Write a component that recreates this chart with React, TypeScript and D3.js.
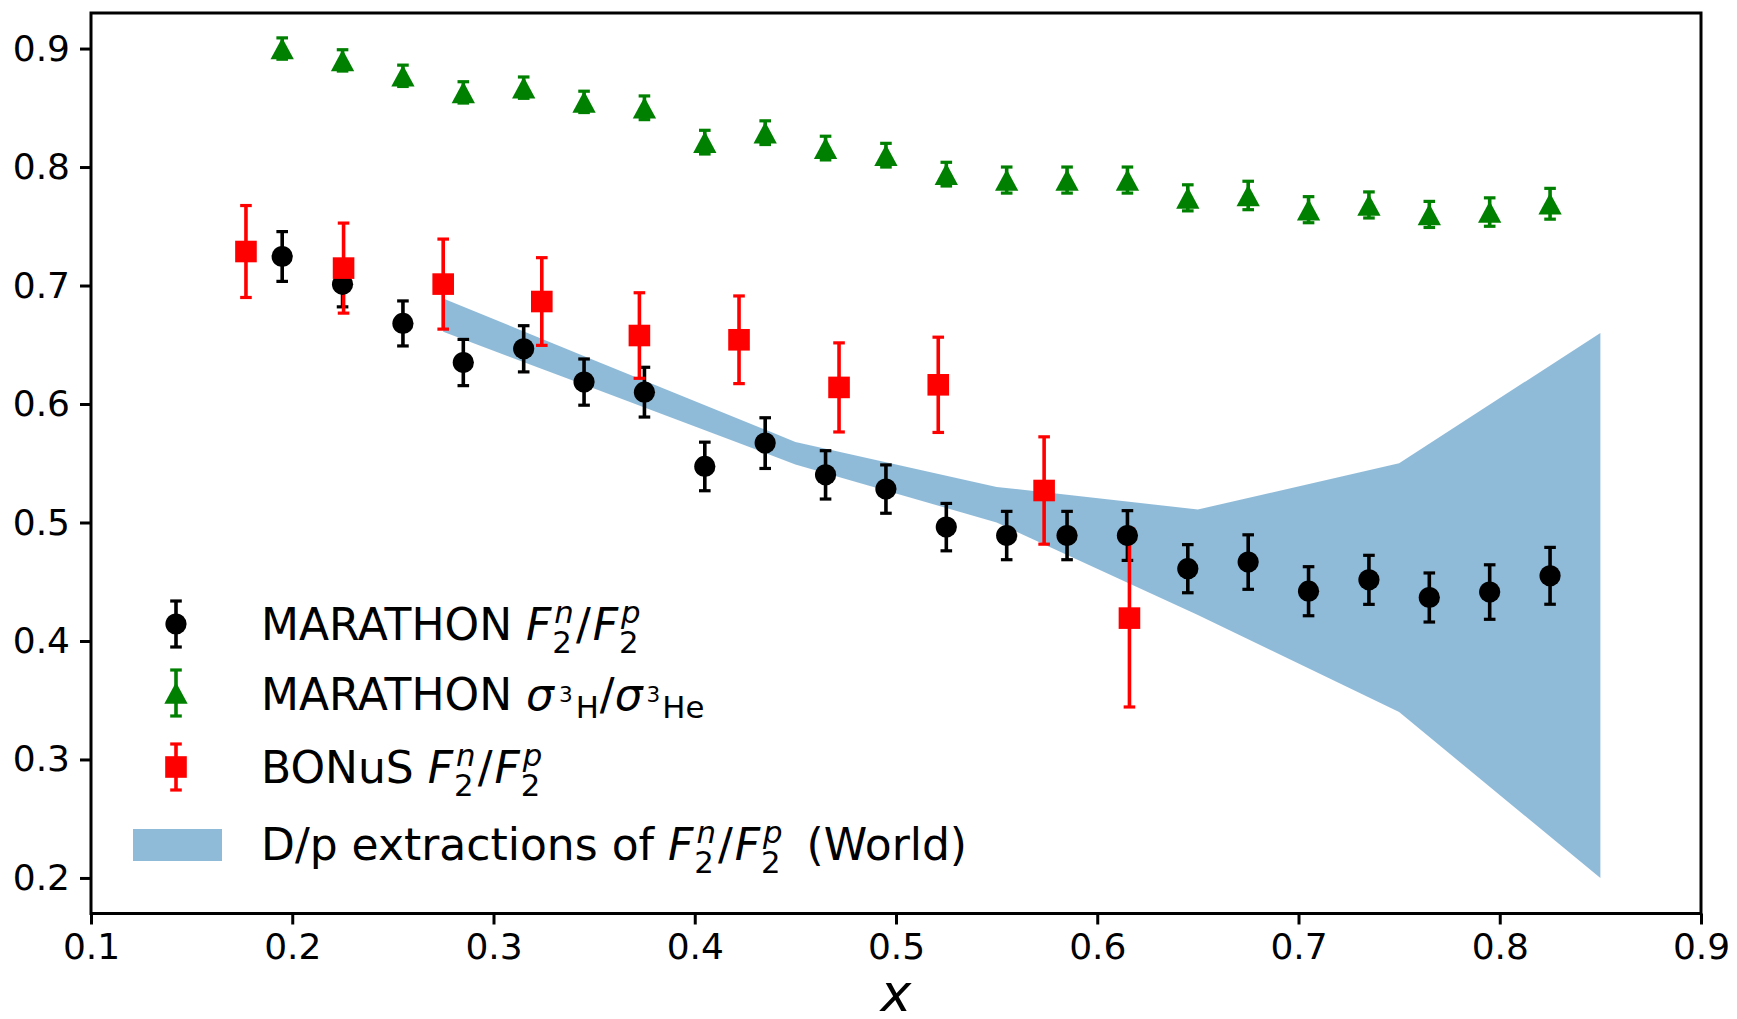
import React, { useEffect, useRef } from "react";
import * as d3 from "d3";

// MARATHON F2n/F2p (black circles)
const marathonX = [0.195, 0.225, 0.255, 0.285, 0.315, 0.345, 0.375, 0.405, 0.435, 0.465, 0.495,
  0.525, 0.555, 0.585, 0.615, 0.645, 0.675, 0.705, 0.735, 0.765, 0.795, 0.825];
const marathonRatio = [0.7245, 0.701, 0.668, 0.635, 0.6466, 0.6185, 0.61, 0.5473, 0.567, 0.5402, 0.5282,
  0.4961, 0.489, 0.489, 0.489, 0.461, 0.4666, 0.442, 0.4516, 0.4367, 0.4413, 0.455];
const marathonRatioErr = [0.021, 0.019, 0.019, 0.0195, 0.0195, 0.0195, 0.021, 0.0205, 0.0214, 0.0204, 0.0204,
  0.02, 0.0204, 0.0204, 0.021, 0.0203, 0.023, 0.0207, 0.0207, 0.0207, 0.023, 0.024];

// MARATHON sigma(3H)/sigma(3He) (green triangles)
const xsecRatio = [0.9, 0.89, 0.877, 0.863, 0.867, 0.855, 0.85, 0.821, 0.829, 0.816, 0.81,
  0.794, 0.789, 0.789, 0.789, 0.774, 0.776, 0.764, 0.768, 0.76, 0.762, 0.769];
const xsecRatioErr = [0.009, 0.009, 0.009, 0.009, 0.009, 0.009, 0.01, 0.01, 0.01, 0.01, 0.01,
  0.01, 0.011, 0.011, 0.011, 0.011, 0.012, 0.011, 0.011, 0.011, 0.012, 0.013];

// BONuS F2n/F2p (red squares)
const bonusX = [0.177, 0.2255, 0.275, 0.324, 0.3725, 0.422, 0.4717, 0.521, 0.5736, 0.616];
const bonusRatio = [0.7287, 0.7147, 0.7012, 0.6865, 0.6578, 0.6542, 0.614, 0.6162, 0.527, 0.4193];
const bonusErr = [0.0388, 0.038, 0.038, 0.037, 0.0361, 0.037, 0.0376, 0.0402, 0.0453, 0.075];

// D/p world band
const bandX = [0.275, 0.35, 0.45, 0.55, 0.65, 0.75, 0.85];
const bandUpper = [0.689, 0.637, 0.568, 0.53, 0.511, 0.55, 0.66];
const bandLower = [0.661, 0.613, 0.549, 0.5, 0.422, 0.34, 0.2];

const xTicks = [0.1, 0.2, 0.3, 0.4, 0.5, 0.6, 0.7, 0.8, 0.9];
const yTicks = [0.2, 0.3, 0.4, 0.5, 0.6, 0.7, 0.8, 0.9];

const W = 1737;
const H = 1019;
const FONT = "DejaVu Sans, Verdana, sans-serif";

type Seg = { t: string; it?: boolean; size?: number; shift?: number; dx?: number };

// F_2^n / F_2^p in mathtext style
const f2ratio = (fs: number): Seg[] => {
  const s = fs * 0.7;
  const w = s * 0.636;
  return [
    { t: "F", it: true },
    { t: "2", size: s, shift: 13, dx: 1 },
    { t: "n", it: true, size: s, shift: -17, dx: -w + 2 },
    { t: "/", dx: 2 },
    { t: "F", it: true, dx: 2 },
    { t: "2", size: s, shift: 13, dx: 1 },
    { t: "p", it: true, size: s, shift: -17, dx: -w + 2 },
  ];
};

const App = () => {
  const svgRef = useRef<SVGSVGElement>(null);

  useEffect(() => {
    const svg = d3.select(svgRef.current);
    svg.selectAll("*").remove();

    const left = 91, right = 1701, top = 13, bottom = 913.5;

    const x = d3.scaleLinear().domain([0.1, 0.9]).range([left, right]);
    const y = d3.scaleLinear().domain([0.17, 0.93]).range([bottom, top]);

    svg.append("rect").attr("width", W).attr("height", H).attr("fill", "#fff");

    // band
    const band = bandX.map((v, i) => ({ x: v, lo: bandLower[i], hi: bandUpper[i] }));
    const area = d3.area<any>()
      .x(d => x(d.x))
      .y0(d => y(d.lo))
      .y1(d => y(d.hi));
    svg.append("path")
      .datum(band)
      .attr("d", area)
      .attr("fill", "#1f77b4")
      .attr("fill-opacity", 0.5);

    const marathon = marathonX.map((v, i) => ({ x: v, y: marathonRatio[i], e: marathonRatioErr[i] }));
    const xsec = marathonX.map((v, i) => ({ x: v, y: xsecRatio[i], e: xsecRatioErr[i] }));
    const bonus = bonusX.map((v, i) => ({ x: v, y: bonusRatio[i], e: bonusErr[i] }));

    const capW = 5.8;
    const drawErr = (g: any, px: number, y0: number, y1: number, color: string) => {
      g.append("line").attr("x1", px).attr("x2", px).attr("y1", y0).attr("y2", y1)
        .attr("stroke", color).attr("stroke-width", 3.6);
      [y0, y1].forEach(yy => {
        g.append("line").attr("x1", px - capW).attr("x2", px + capW).attr("y1", yy).attr("y2", yy)
          .attr("stroke", color).attr("stroke-width", 3.2);
      });
    };

    // error bars first, markers on top (like matplotlib)
    const errG = svg.append("g");
    marathon.forEach(d => drawErr(errG, x(d.x), y(d.y - d.e), y(d.y + d.e), "#000"));
    xsec.forEach(d => drawErr(errG, x(d.x), y(d.y - d.e), y(d.y + d.e), "green"));
    bonus.forEach(d => drawErr(errG, x(d.x), y(d.y - d.e), y(d.y + d.e), "red"));

    const tri = (cx: number, cy: number, r: number) =>
      `M${cx},${cy - r}L${cx + r * 1.08},${cy + r}L${cx - r * 1.08},${cy + r}Z`;

    svg.append("g").selectAll("circle").data(marathon).enter().append("circle")
      .attr("cx", d => x(d.x)).attr("cy", d => y(d.y)).attr("r", 10.6).attr("fill", "#000");
    svg.append("g").selectAll("path").data(xsec).enter().append("path")
      .attr("d", d => tri(x(d.x), y(d.y), 10.8)).attr("fill", "green");
    svg.append("g").selectAll("rect").data(bonus).enter().append("rect")
      .attr("x", d => x(d.x) - 10.8).attr("y", d => y(d.y) - 10.8)
      .attr("width", 21.6).attr("height", 21.6).attr("fill", "red");

    // axes
    const xAxis = svg.append("g").attr("transform", `translate(0,${bottom})`)
      .call(d3.axisBottom(x).tickValues(xTicks).tickFormat(d3.format(".1f")).tickSize(11).tickPadding(9));
    const yAxis = svg.append("g").attr("transform", `translate(${left},0)`)
      .call(d3.axisLeft(y).tickValues(yTicks).tickFormat(d3.format(".1f")).tickSize(11).tickPadding(10));
    [xAxis, yAxis].forEach(a => {
      a.select(".domain").remove();
      a.selectAll("line").attr("stroke", "#000").attr("stroke-width", 3);
      a.selectAll("text").style("font-family", FONT).style("font-size", "36px").attr("fill", "#000");
    });

    svg.append("rect")
      .attr("x", left).attr("y", top)
      .attr("width", right - left).attr("height", bottom - top)
      .attr("fill", "none").attr("stroke", "#000").attr("stroke-width", 3);

    svg.append("text")
      .attr("x", x(0.5)).attr("y", 1011)
      .attr("text-anchor", "middle")
      .style("font-family", FONT).style("font-size", "52px").style("font-style", "italic")
      .text("x");

    // legend
    const legend = svg.append("g");
    const lx = 176;
    const textX = 261;
    const fs = 44;

    const writeLabel = (baseline: number, segs: Seg[]) => {
      const t = legend.append("text").attr("x", textX).attr("y", baseline)
        .style("font-family", FONT).style("font-size", `${fs}px`).attr("fill", "#000")
        .attr("xml:space", "preserve");
      segs.forEach(s => {
        const sp = t.append("tspan").attr("y", baseline + (s.shift || 0)).text(s.t);
        if (s.it) sp.style("font-style", "italic");
        if (s.size) sp.style("font-size", `${s.size}px`);
        if (s.dx) sp.attr("dx", s.dx);
      });
    };

    const rows = [624, 693, 767];
    drawErr(legend, lx, rows[0] - 23, rows[0] + 23, "#000");
    legend.append("circle").attr("cx", lx).attr("cy", rows[0]).attr("r", 10.6).attr("fill", "#000");
    drawErr(legend, lx, rows[1] - 23, rows[1] + 23, "green");
    legend.append("path").attr("d", tri(lx, rows[1], 10.8)).attr("fill", "green");
    drawErr(legend, lx, rows[2] - 23, rows[2] + 23, "red");
    legend.append("rect").attr("x", lx - 10.8).attr("y", rows[2] - 10.8)
      .attr("width", 21.6).attr("height", 21.6).attr("fill", "red");
    legend.append("rect").attr("x", 133).attr("y", 829).attr("width", 89).attr("height", 32)
      .attr("fill", "#1f77b4").attr("fill-opacity", 0.5);

    writeLabel(640, [{ t: "MARATHON " }, ...f2ratio(fs)]);
    const s1 = fs * 0.7;
    const s2 = fs * 0.49;
    writeLabel(710, [
      { t: "MARATHON " },
      { t: "σ", it: true },
      { t: "3", size: s2, shift: -8, dx: 5 },
      { t: "H", size: s1, shift: 8, dx: 3 },
      { t: "/", dx: 1 },
      { t: "σ", it: true },
      { t: "3", size: s2, shift: -8, dx: 4 },
      { t: "He", size: s1, shift: 8, dx: 2 },
    ]);
    writeLabel(783, [{ t: "BONuS " }, ...f2ratio(fs)]);
    writeLabel(860, [{ t: "D/p extractions of " }, ...f2ratio(fs), { t: " (World)", dx: 10 }]);
  }, []);

  return (
    <svg
      ref={svgRef}
      width={W}
      height={H}
      style={{ position: "absolute", left: 0, top: 0, display: "block" }}
    />
  );
};

export default App;
